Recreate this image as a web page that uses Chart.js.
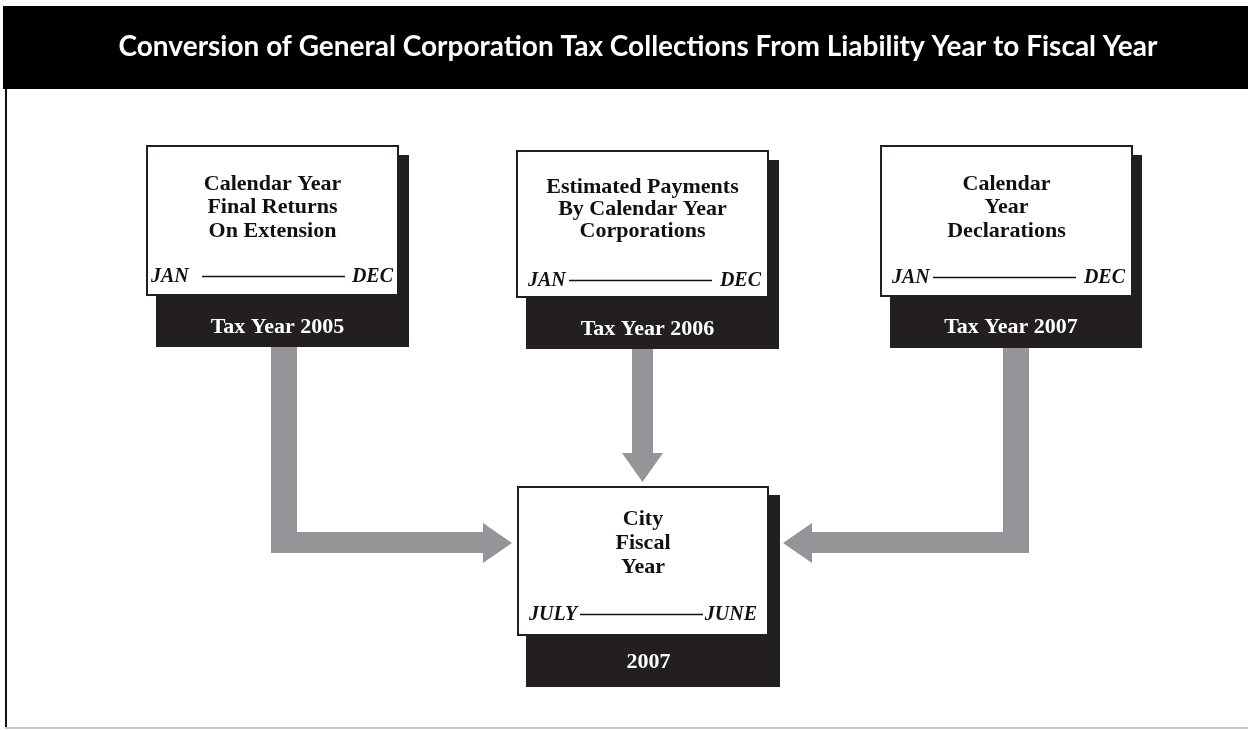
<!DOCTYPE html>
<html>
<head>
<meta charset="utf-8">
<script src="https://cdn.jsdelivr.net/npm/chart.js@4/dist/chart.umd.min.js"></script>
<style>
  html, body { margin: 0; padding: 0; background: #ffffff; }
  #wrap { width: 1248px; height: 730px; position: relative; }
</style>
</head>
<body>
<div id="wrap"><canvas id="c" width="1248" height="730"></canvas></div>
<script>
// ---- content (text data) ----
const chartTitle = "Conversion of General Corporation Tax Collections From Liability Year to Fiscal Year";
const boxTitles = [
  ["Calendar Year", "Final Returns", "On Extension"],
  ["Estimated Payments", "By Calendar Year", "Corporations"],
  ["Calendar", "Year", "Declarations"],
  ["City", "Fiscal", "Year"]
];
const periodStart = ["JAN", "JAN", "JAN", "JULY"];
const periodEnd = ["DEC", "DEC", "DEC", "JUNE"];
const footerLabels = ["Tax Year 2005", "Tax Year 2006", "Tax Year 2007", "2007"];
// arrows: from box index -> to box index
const arrowFrom = [0, 1, 2];
const arrowTo = [3, 3, 3];

// ---- layout (positions / sizes, in diagram units = axis values) ----
const boxLayout = [
  { x: 146, y: 145, r: 399, b: 296, sr: 409, sb: 347, sx: 156, sy: 155, tl: [190, 213, 237], py: 282, pl: 151, l1: 202, l2: 345, pr: 393, fy: 333 },
  { x: 516, y: 150, r: 769, b: 298, sr: 779, sb: 349, sx: 526, sy: 160, tl: [193, 215, 237], py: 286, pl: 528, l1: 569, l2: 712, pr: 761, fy: 335 },
  { x: 880, y: 145, r: 1133, b: 297, sr: 1142, sb: 348, sx: 890, sy: 155, tl: [190, 213, 237], py: 283, pl: 892, l1: 933, l2: 1076, pr: 1125, fy: 333 },
  { x: 517, y: 486, r: 769, b: 636, sr: 780, sb: 687, sx: 526, sy: 495, tl: [525, 549, 573], py: 620, pl: 529, l1: 580, l2: 703, pr: 757, fy: 668 }
];
const arrowLayout = [
  // L-shaped down then right
  { pts: [[271, 347], [297, 347], [297, 532], [483, 532], [483, 523], [512, 543], [483, 563], [483, 553], [271, 553]] },
  // straight down
  { pts: [[632, 349], [653, 349], [653, 453], [663, 453], [642.5, 482], [622, 453], [632, 453]] },
  // L-shaped down then left
  { pts: [[1003, 348], [1029, 348], [1029, 553], [812, 553], [812, 563], [783, 543], [812, 523], [812, 532], [1003, 532]] }
];
const titleBar = { x1: 3, y1: 6, x2: 1248, y2: 89, textX: 638, textY: 56, textW: 1066 };

const C_ARROW = "#939598";
const C_DARK = "#231f20";
const SERIF = "'Liberation Serif', 'DejaVu Serif', serif";

const diagramPlugin = {
  id: 'diagram',
  beforeDatasetsDraw(chart) {
    const ctx = chart.ctx;
    const xs = chart.scales.x, ys = chart.scales.y;
    const X = v => xs.getPixelForValue(v);
    const Y = v => ys.getPixelForValue(v);
    ctx.save();

    // title bar
    ctx.fillStyle = "#000000";
    ctx.fillRect(X(titleBar.x1), Y(titleBar.y1), X(titleBar.x2) - X(titleBar.x1), Y(titleBar.y2) - Y(titleBar.y1));
    ctx.fillStyle = "#ffffff";
    ctx.font = "bold 28px Lato, 'Open Sans', sans-serif";
    ctx.textAlign = "center";
    ctx.textBaseline = "alphabetic";
    const tw = ctx.measureText(chartTitle).width;
    if (tw > titleBar.textW) ctx.fillText(chartTitle, X(titleBar.textX), Y(titleBar.textY), titleBar.textW);
    else ctx.fillText(chartTitle, X(titleBar.textX), Y(titleBar.textY));

    // frame lines
    ctx.fillStyle = "#111111";
    ctx.fillRect(X(5), Y(89), 2, Y(729) - Y(89));
    ctx.fillStyle = "#c8c8c8";
    ctx.fillRect(X(5), Y(727), X(1248) - X(5), 2);

    // arrows
    ctx.fillStyle = C_ARROW;
    arrowFrom.forEach((f, i) => {
      const a = arrowLayout[i];
      ctx.beginPath();
      a.pts.forEach((p, k) => { if (k === 0) ctx.moveTo(X(p[0]), Y(p[1])); else ctx.lineTo(X(p[0]), Y(p[1])); });
      ctx.closePath();
      ctx.fill();
    });

    // boxes
    boxTitles.forEach((lines, i) => {
      const L = boxLayout[i];
      // shadow / footer band
      ctx.fillStyle = C_DARK;
      ctx.fillRect(X(L.sx), Y(L.sy), X(L.sr) - X(L.sx), Y(L.sb) - Y(L.sy));
      // white box with border
      ctx.fillStyle = "#ffffff";
      ctx.fillRect(X(L.x), Y(L.y), X(L.r) - X(L.x), Y(L.b) - Y(L.y));
      ctx.strokeStyle = C_DARK;
      ctx.lineWidth = 2;
      ctx.strokeRect(X(L.x) + 1, Y(L.y) + 1, X(L.r) - X(L.x) - 2, Y(L.b) - Y(L.y) - 2);

      // title lines
      ctx.fillStyle = "#111111";
      ctx.font = "bold 22px " + SERIF;
      ctx.textAlign = "center";
      const cx = (X(L.x) + X(L.r)) / 2;
      lines.forEach((t, k) => ctx.fillText(t, cx, Y(L.tl[k])));

      // period line
      ctx.font = "italic bold 20px " + SERIF;
      ctx.textAlign = "left";
      ctx.fillText(periodStart[i], X(L.pl), Y(L.py));
      ctx.textAlign = "right";
      ctx.fillText(periodEnd[i], X(L.pr), Y(L.py));
      ctx.strokeStyle = "#111111";
      ctx.lineWidth = 1.5;
      ctx.beginPath();
      ctx.moveTo(X(L.l1), Y(L.py) - 5.5);
      ctx.lineTo(X(L.l2), Y(L.py) - 5.5);
      ctx.stroke();

      // footer label
      ctx.fillStyle = "#ffffff";
      ctx.font = "bold 22px " + SERIF;
      ctx.textAlign = "center";
      ctx.fillText(footerLabels[i], (X(L.x) + X(L.sr)) / 2, Y(L.fy));
    });
    ctx.restore();
  }
};

new Chart(document.getElementById('c'), {
  type: 'scatter',
  data: { datasets: [{ data: [], pointRadius: 0 }] },
  options: {
    responsive: false,
    animation: false,
    events: [],
    layout: { padding: 0 },
    plugins: { legend: { display: false }, tooltip: { enabled: false }, title: { display: false } },
    scales: {
      x: { type: 'linear', min: 0, max: 1248, display: false },
      y: { type: 'linear', min: 0, max: 730, reverse: true, display: false }
    }
  },
  plugins: [diagramPlugin]
});
</script>
</body>
</html>
